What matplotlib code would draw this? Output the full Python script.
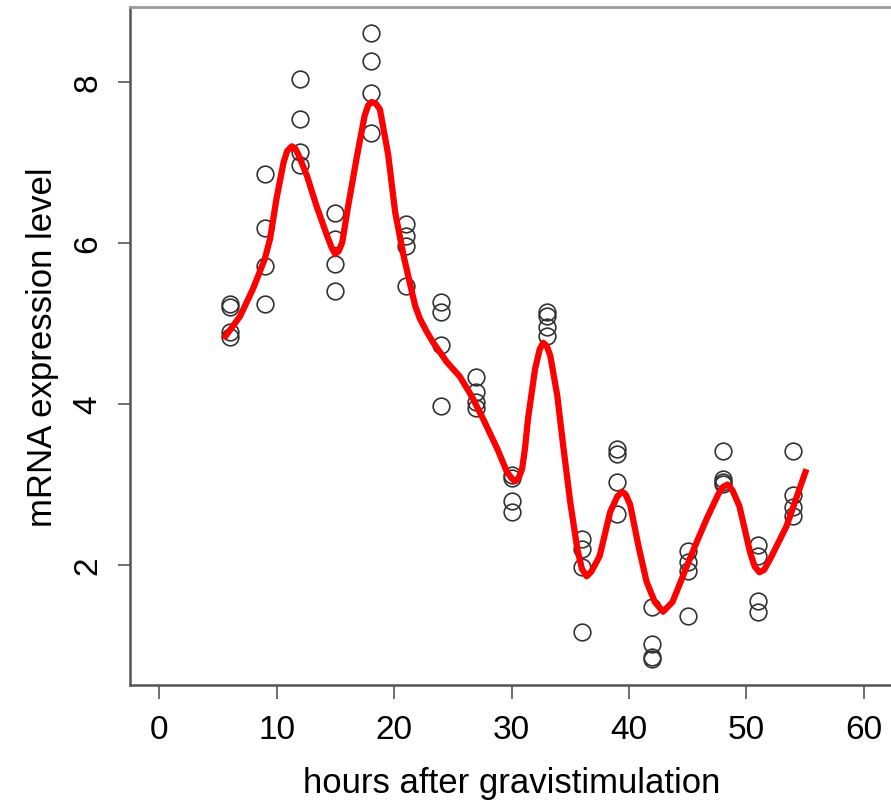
import matplotlib
matplotlib.use("Agg")
import matplotlib.pyplot as plt

plt.rcParams['font.family'] = ['Liberation Sans', 'DejaVu Sans']

# observed data (hours, expression)
hours = [6]*4 + [9]*4 + [12]*4 + [15]*4 + [18]*4 + [21]*4 + [24]*4 + [27]*4 + \
        [30]*4 + [33]*4 + [36]*4 + [39]*4 + [42]*4 + [45]*4 + [48]*4 + [51]*4 + [54]*4
expr = [5.24, 5.21, 4.89, 4.83,
        6.86, 6.19, 5.71, 5.24,
        8.04, 7.54, 7.13, 6.97,
        6.37, 6.05, 5.74, 5.40,
        8.61, 8.26, 7.86, 7.37,
        6.24, 6.09, 5.96, 5.47,
        5.27, 5.14, 4.73, 3.98,
        4.34, 4.15, 4.02, 3.95,
        3.12, 3.08, 2.80, 2.66,
        5.14, 5.09, 4.96, 4.84,
        2.32, 2.20, 1.98, 1.17,
        3.44, 3.38, 3.03, 2.63,
        1.48, 1.02, 0.86, 0.83,
        2.17, 2.04, 1.93, 1.37,
        3.42, 3.07, 3.03, 3.01,
        2.25, 2.11, 1.55, 1.42,
        3.42, 2.87, 2.72, 2.61]

# fitted curve
fit_t = [5.5, 6.9, 8.0, 9.0, 9.45, 10.0, 10.6, 10.9, 11.3, 11.6, 11.85, 12.6, 13.4,
         14.3, 14.7, 15.0, 15.3, 15.6, 16.1, 16.85, 17.5, 17.8, 18.1, 18.45, 18.8,
         19.5, 20.1, 20.8, 21.4, 21.8, 22.2, 22.7, 23.3, 24.5, 25.6, 26.6, 27.6,
         28.8, 29.6, 30.0, 30.3, 30.6, 30.9, 31.15, 31.4, 32.0, 32.4, 32.7, 33.0,
         33.3, 33.9, 34.4, 35.0, 35.6, 36.0, 36.4, 36.8, 37.5, 38.4, 39.0, 39.4,
         39.7, 40.1, 40.8, 41.5, 42.2, 42.9, 43.7, 44.5, 45.4, 46.6, 47.6, 48.0,
         48.4, 48.8, 49.4, 50.3, 50.7, 51.1, 51.5, 52.0, 53.4, 55.1]
fit_v = [4.81, 5.09, 5.43, 5.80, 6.05, 6.55, 7.00, 7.14, 7.20, 7.17, 7.10, 6.83, 6.46,
         6.09, 5.94, 5.86, 5.90, 6.01, 6.46, 7.08, 7.58, 7.71, 7.75, 7.73, 7.66,
         7.10, 6.38, 5.85, 5.47, 5.22, 5.06, 4.92, 4.77, 4.52, 4.34, 4.10, 3.81,
         3.44, 3.16, 3.08, 3.04, 3.08, 3.19, 3.45, 3.81, 4.43, 4.68, 4.76, 4.72,
         4.60, 4.10, 3.48, 2.78, 2.20, 1.95, 1.86, 1.92, 2.11, 2.66, 2.85, 2.91,
         2.88, 2.75, 2.24, 1.79, 1.54, 1.42, 1.54, 1.83, 2.16, 2.57, 2.88, 2.97,
         3.00, 2.93, 2.73, 2.16, 1.98, 1.91, 1.94, 2.07, 2.48, 3.19]

xticks = [0, 10, 20, 30, 40, 50, 60]
yticks = [2, 4, 6, 8]

fig = plt.figure(figsize=(8.91, 8.03), dpi=100)
ax = fig.add_axes([130/891, 1-686/803, 763/891, 678/803])

ax.plot(hours, expr, linestyle='none', marker='o', markersize=12,
        markerfacecolor='none', markeredgecolor='#333333', markeredgewidth=1.2)
ax.plot(fit_t, fit_v, color='#ff0000', linewidth=4.5, solid_joinstyle='round',
        solid_capstyle='butt')

ax.set_xlim(-2.47, 62.47)
ax.set_ylim(0.51, 8.93)
ax.set_xticks(xticks)
ax.set_yticks(yticks)
ax.set_xticklabels([str(v) for v in xticks])
ax.set_yticklabels([str(v) for v in yticks], rotation=90, va='center')

ax.tick_params(axis='x', length=10, width=1.2, color='#555555', labelsize=24, pad=11)
ax.tick_params(axis='y', length=9, width=1.2, color='#555555', labelsize=24, pad=10)

for s in ['left', 'bottom']:
    ax.spines[s].set_color('#555555')
    ax.spines[s].set_linewidth(1.8)
ax.spines['top'].set_color('#999999')
ax.spines['top'].set_linewidth(2)
ax.spines['right'].set_color('#999999')

ax.set_xlabel('hours after gravistimulation', fontsize=25, labelpad=15)
ax.set_ylabel('mRNA expression level', fontsize=25, labelpad=10)

fig.savefig('out.png', dpi=100)
